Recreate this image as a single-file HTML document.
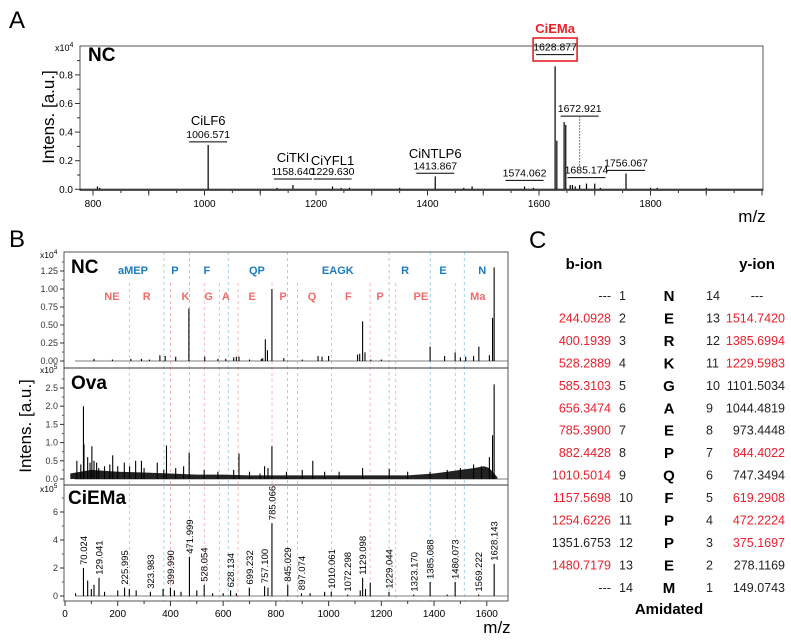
<!DOCTYPE html>
<html><head><meta charset="utf-8"><style>
body{margin:0;background:#fff;}
svg{display:block;font-family:"Liberation Sans",sans-serif;}
</style></head><body>
<svg id="fig" width="791" height="642" viewBox="0 0 791 642">
<text x="9" y="28" font-size="24">A</text>
<text x="9" y="247" font-size="24">B</text>
<text x="529" y="248" font-size="24">C</text>
<g id="pa"></g>
<g id="pb"></g>
<g id="pc"></g>
</svg>
<script>
// ---------- Panel A data ----------
const aTicks=[800,1000,1200,1400,1600,1800];
const aYTicks=[0.0,0.2,0.4,0.6,0.8];
const aPeakMz=[808,812,1006.571,1130,1158.64,1229.63,1245,1260,1350,1413.867,1465,1480,1574.062,1590,1628.877,1632,1645,1648,1656,1660,1665,1672.9,1685.174,1700,1710,1756.067,1800,1812,1900];
const aPeakInt=[0.02,0.01,0.31,0.01,0.03,0.02,0.01,0.01,0.01,0.09,0.01,0.02,0.02,0.01,0.86,0.34,0.47,0.45,0.03,0.03,0.02,0.03,0.04,0.04,0.01,0.11,0.01,0.01,0.01];
const aLabelNames=["CiLF6","CiTKI","CiYFL1","CiNTLP6"];
const aLabelNameMz=[1006.571,1158.64,1229.63,1413.867];
const aLabelNameY=[0.45,0.19,0.17,0.22];
const aNumLabels=["1006.571","1158.640","1229.630","1413.867","1574.062","1628.877","1672.921","1685.174","1756.067"];
const aNumMz=[1006.571,1158.64,1229.63,1413.867,1574.062,1628.877,1672.921,1685.174,1756.067];
const aNumY=[0.36,0.10,0.10,0.14,0.09,0.97,0.54,0.11,0.16];

// ---------- Panel B data ----------
const bXTicks=[0,200,400,600,800,1000,1200,1400,1600];
const ncYTicks=[0,0.25,0.5,0.75,1.0,1.25];
const ovaYTicks=[0,0.5,1.0,1.5,2.0,2.5];
const ciYTicks=[0,2,4,6];
const yIonMz=[375.1697,472.2224,619.2908,844.4022,1229.5983,1385.6994,1514.7420];
const bIonMz=[244.0928,400.1939,528.2889,585.3103,656.3474,785.3900,882.4428,1010.5014,1157.5698,1254.6226,1480.7179];
const blueLabels=["aMEP","P","F","QP","EAGK","R","E","N"];
const blueLabelMz=[258,417,538,728,1035,1290,1434,1583];
const redLabels=["NE","R","K","G","A","E","P","Q","F","P","PE","Ma"];
const redLabelMz=[178,310,457,545,610,710,827,937,1075,1195,1350,1566];
const ncPeakMz=[110,180,250,290,320,360,380,420,470,530,580,610,640,650,660,700,745,750,760,768,785,830,900,960,975,1000,1110,1118,1129,1138,1160,1200,1385,1440,1480,1500,1520,1550,1570,1610,1622,1628];
const ncPeakInt=[0.03,0.02,0.03,0.03,0.02,0.08,0.07,0.06,0.73,0.06,0.03,0.03,0.05,0.06,0.06,0.02,0.03,0.04,0.30,0.15,1.0,0.04,0.02,0.07,0.06,0.07,0.09,0.10,0.55,0.12,0.02,0.02,0.20,0.07,0.12,0.05,0.06,0.07,0.20,0.08,0.60,1.30];
const ovaPeakMz=[45,60,70,72,86,95,102,110,120,128,150,170,181,200,225,245,268,290,300,350,375,385,420,450,471,528,580,640,660,700,740,757,770,785,840,900,940,985,1040,1129,1230,1300,1385,1450,1500,1550,1580,1610,1622,1628];
const ovaPeakInt=[0.5,0.4,2.0,0.95,0.6,0.45,0.9,0.5,0.45,0.3,0.35,0.4,0.65,0.35,0.45,0.35,0.5,0.5,0.3,0.45,0.25,0.92,0.3,0.35,0.72,0.25,0.2,0.25,0.7,0.2,0.15,0.35,0.3,0.9,0.2,0.25,0.5,0.2,0.2,0.3,0.28,0.2,0.2,0.25,0.3,0.4,0.35,0.6,1.2,2.6];
const ovaNoiseMz=[20,100,200,300,400,500,600,700,800,900,1000,1100,1200,1300,1400,1450,1500,1550,1590,1610,1640];
const ovaNoiseInt=[0.15,0.25,0.2,0.18,0.15,0.12,0.12,0.1,0.1,0.1,0.1,0.1,0.1,0.1,0.15,0.2,0.25,0.3,0.35,0.3,0.05];
const ciPeakMz=[40,70.024,86,100,110,129.041,150,200,225.995,244,270,323.983,372,399.99,415,440,471.999,500,528.054,560,600,628.134,650,699.232,757.1,770,785.066,845.029,897.074,930,985,1010.061,1072.298,1120,1129.098,1140,1158,1229.044,1323.17,1385.088,1450,1480.073,1569.222,1628.143];
const ciPeakInt=[0.2,2.0,1.1,0.5,0.8,1.3,0.3,0.4,0.6,0.5,0.4,0.3,0.5,0.6,0.4,0.3,2.8,0.4,0.8,0.2,0.2,0.4,0.2,0.6,0.7,0.6,5.2,0.8,0.2,0.2,0.3,0.3,0.1,0.4,1.3,0.5,0.95,0.3,0.1,1.0,0.1,1.0,0.1,2.3];
const ciLabels=["70.024","129.041","225.995","323.983","399.990","471.999","528.054","628.134","699.232","757.100","785.066","845.029","897.074","1010.061","1072.298","1129.098","1229.044","1323.170","1385.088","1480.073","1569.222","1628.143"];
const ciLabelMz=[70.024,129.041,225.995,323.983,399.99,471.999,528.054,628.134,699.232,757.1,785.066,845.029,897.074,1010.061,1072.298,1129.098,1229.044,1323.17,1385.088,1480.073,1569.222,1628.143];
const ciLabelInt=[2.0,1.3,0.6,0.3,0.6,2.8,0.8,0.4,0.6,0.7,5.2,0.8,0.2,0.3,0.1,1.3,0.3,0.1,1.0,1.0,0.1,2.3];

// ---------- Panel C data ----------
const bIonVals=["---","244.0928","400.1939","528.2889","585.3103","656.3474","785.3900","882.4428","1010.5014","1157.5698","1254.6226","1351.6753","1480.7179","---"];
const bIonRed=[0,1,1,1,1,1,1,1,1,1,1,0,1,0];
const residues=["N","E","R","K","G","A","E","P","Q","F","P","P","E","M"];
const yIonVals=["---","1514.7420","1385.6994","1229.5983","1101.5034","1044.4819","973.4448","844.4022","747.3494","619.2908","472.2224","375.1697","278.1169","149.0743"];
const yIonRed=[0,1,1,1,0,0,0,1,0,1,1,1,0,0];

const NS="http://www.w3.org/2000/svg";
function mk(parent,tag,attrs,txt){const e=document.createElementNS(NS,tag);for(const k in attrs)e.setAttribute(k,attrs[k]);if(txt!==undefined)e.textContent=txt;parent.appendChild(e);return e;}
const RED="#e8202a", BLUE="#1a7cc1", PINK="#f26b6b";

// ================= Panel A =================
(function(){
const g=document.getElementById('pa');
const X=m=>93+(m-800)*0.5575, Y=v=>189.3-v*143;
const L=80,R=763,T=46,B=190.5;
let e=mk(g,'rect',{x:L,y:T,width:R-L,height:B-T,fill:'none',stroke:'#555','stroke-width':1});


mk(g,'line',{x1:L,y1:Y(0),x2:R,y2:Y(0),stroke:'#000','stroke-width':1});
for(let m=800;m<=2000;m+=100){mk(g,'line',{x1:X(m),y1:B,x2:X(m),y2:B+5,stroke:'#333'});}
for(let m=800;m<=2000;m+=50){mk(g,'line',{x1:X(m),y1:B,x2:X(m),y2:B+2.5,stroke:'#333'});}
aTicks.forEach(t=>{const e=mk(g,'text',{x:X(t),y:207,'font-size':10,'text-anchor':'middle'},String(t));

});
aYTicks.forEach(t=>{mk(g,'line',{x1:L-5,y1:Y(t),x2:L,y2:Y(t),stroke:'#333'});
mk(g,'line',{x1:L-3,y1:Y(t+0.1),x2:L,y2:Y(t+0.1),stroke:'#333'});
const e=mk(g,'text',{x:L-7,y:Y(t)+3.5,'font-size':10,'text-anchor':'end'},t.toFixed(1));

});
e=mk(g,'text',{x:55,y:51,'font-size':9},'x10');mk(e,'tspan',{dy:-4,'font-size':7},'4');


e=mk(g,'text',{x:88,y:61,'font-size':19,'font-weight':'bold'},'NC');


e=mk(g,'text',{x:0,y:0,'font-size':17,'text-anchor':'middle',transform:'translate(54,117) rotate(-90)'},'Intens. [a.u.]');


e=mk(g,'text',{x:752,y:222,'font-size':17,'text-anchor':'middle'},'m/z');


aPeakMz.forEach((m,i)=>{const p=mk(g,'line',{x1:X(m),y1:Y(0),x2:X(m),y2:Y(aPeakInt[i]),stroke:'#000','stroke-width':1.2});

});
aLabelNames.forEach((n,i)=>{const e=mk(g,'text',{x:X(aLabelNameMz[i]),y:Y(aLabelNameY[i]),'font-size':13,'text-anchor':'middle'},n);

});
aNumLabels.forEach((n,i)=>{const x=X(aNumMz[i]),y=Y(aNumY[i]);
const e=mk(g,'text',{x:x,y:y,'font-size':10.5,'text-anchor':'middle'},n);


mk(g,'line',{x1:x-19,y1:y+4,x2:x+19,y2:y+4,stroke:'#000','stroke-width':1});});
mk(g,'line',{x1:X(1672.921),y1:Y(0.54)+4,x2:X(1672.921),y2:Y(0.15),stroke:'#555','stroke-dasharray':'1.5,1.5'});
e=mk(g,'rect',{x:X(1628.877)-22,y:38,width:44,height:23,fill:'none',stroke:RED,'stroke-width':1.6});


e=mk(g,'text',{x:X(1628.877),y:33,'font-size':13,'font-weight':'bold','text-anchor':'middle',fill:RED},'CiEMa');


})();

// ================= Panel B =================
(function(){
const g=document.getElementById('pb');
const X=m=>65+m*0.2636;
const L=64,R=508,T=252,D1=368,D2=485,B=601;
const Ync=v=>361-v*72, Yova=v=>479-v*36.4, Yci=v=>596-v*14;
let e;
yIonMz.forEach(m=>{const l=mk(g,'line',{x1:X(m),y1:T,x2:X(m),y2:B,stroke:'#8cc4e6','stroke-dasharray':'3,3','stroke-width':0.8});

});
bIonMz.forEach(m=>{const l=mk(g,'line',{x1:X(m),y1:283,x2:X(m),y2:B,stroke:'#f4a8a8','stroke-dasharray':'3,3','stroke-width':0.8});

});
e=mk(g,'rect',{x:L,y:T,width:R-L,height:B-T,fill:'none',stroke:'#555','stroke-width':1});


mk(g,'line',{x1:L,y1:D1,x2:R,y2:D1,stroke:'#333'});
mk(g,'line',{x1:L,y1:D2,x2:R,y2:D2,stroke:'#333'});
[Ync(0),Yova(0),Yci(0)].forEach(y=>mk(g,'line',{x1:75,y1:y,x2:R,y2:y,stroke:'#555','stroke-width':0.8}));
for(let m=0;m<=1600;m+=100){mk(g,'line',{x1:X(m),y1:B,x2:X(m),y2:B+(m%200?3:5),stroke:'#333'});}
bXTicks.forEach(t=>{const e=mk(g,'text',{x:X(t),y:617,'font-size':10,'text-anchor':'middle'},String(t));

});
function yax(ticks,Yf,dec,step){ticks.forEach(t=>{mk(g,'line',{x1:L-4,y1:Yf(t),x2:L,y2:Yf(t),stroke:'#333'});
const e=mk(g,'text',{x:L-6,y:Yf(t)+3,'font-size':9,'text-anchor':'end',fill:'#333'},t.toFixed(dec));


mk(g,'line',{x1:L-2,y1:Yf(t+step),x2:L,y2:Yf(t+step),stroke:'#555'});});}
yax(ncYTicks,Ync,2,0.125);yax(ovaYTicks,Yova,1,0.25);yax(ciYTicks,Yci,0,1);
[[258,'4'],[373,'5'],[492,'5']].forEach(a=>{const e=mk(g,'text',{x:40,y:a[0],'font-size':8.5},'x10');mk(e,'tspan',{dy:-4,'font-size':6.5},a[1]);

});
[['NC',71,273,'nc-label-b'],['Ova',71,389,'ova-label'],['CiEMa',68,504,'ciema-label-b']].forEach(a=>{
const e=mk(g,'text',{x:a[1],y:a[2],'font-size':19,'font-weight':'bold'},a[0]);

});
e=mk(g,'text',{x:0,y:0,'font-size':17,'text-anchor':'middle',transform:'translate(31,426) rotate(-90)'},'Intens. [a.u.]');


e=mk(g,'text',{x:497,y:633,'font-size':17,'text-anchor':'middle'},'m/z');


blueLabels.forEach((t,i)=>{const e=mk(g,'text',{x:X(blueLabelMz[i]),y:274,'font-size':11,'font-weight':'bold','text-anchor':'middle',fill:BLUE},t);

});
redLabels.forEach((t,i)=>{const e=mk(g,'text',{x:X(redLabelMz[i]),y:300,'font-size':11,'font-weight':'bold','text-anchor':'middle',fill:PINK},t);

});
let d='M'+X(ovaNoiseMz[0])+','+Yova(0);
ovaNoiseMz.forEach((m,i)=>{d+=' L'+X(m)+','+Yova(ovaNoiseInt[i]);});
d+=' L'+X(ovaNoiseMz[ovaNoiseMz.length-1])+','+Yova(0)+' Z';
e=mk(g,'path',{d:d,fill:'#222'});


function peaks(mz,val,Yf,name,top){mz.forEach((m,i)=>{const y=Math.max(top,Yf(val[i]));
const l=mk(g,'line',{x1:X(m),y1:Yf(0),x2:X(m),y2:y,stroke:'#000','stroke-width':1.1});

});}
peaks(ncPeakMz,ncPeakInt,Ync,'nc-peak',T);
peaks(ovaPeakMz,ovaPeakInt,Yova,'ova-peak',D1);
peaks(ciPeakMz,ciPeakInt,Yci,'ciema-peak',D2);
ciLabels.forEach((t,i)=>{const x=X(ciLabelMz[i])+3.5,y=Yci(ciLabelInt[i])-3;
const e=mk(g,'text',{x:0,y:0,'font-size':9.5,transform:'translate('+x+','+y+') rotate(-90)'},t);

});
})();

// ================= Panel C =================
(function(){
const g=document.getElementById('pc');
let e=mk(g,'text',{x:584,y:269,'font-size':15,'font-weight':'bold','text-anchor':'middle'},'b-ion');


e=mk(g,'text',{x:757,y:269,'font-size':15,'font-weight':'bold','text-anchor':'middle'},'y-ion');


residues.forEach((r,i)=>{const y=300+i*22.45;
let e=mk(g,'text',{x:611,y:y,'font-size':12.5,'text-anchor':'end',fill:bIonRed[i]?RED:'#222'},bIonVals[i]);


e=mk(g,'text',{x:619,y:y,'font-size':12.5,fill:'#222'},String(i+1));


e=mk(g,'text',{x:669,y:y+1,'font-size':15,'font-weight':'bold','text-anchor':'middle'},r);


e=mk(g,'text',{x:706,y:y,'font-size':12.5,fill:'#222'},String(14-i));


e=mk(g,'text',{x:yIonVals[i]==='---'?757:785,y:y,'font-size':12.5,'text-anchor':yIonVals[i]==='---'?'middle':'end',fill:yIonRed[i]?RED:'#222'},yIonVals[i]);

});
e=mk(g,'text',{x:669,y:614,'font-size':15,'font-weight':'bold','text-anchor':'middle'},'Amidated');


})();
</script>
</body></html>
